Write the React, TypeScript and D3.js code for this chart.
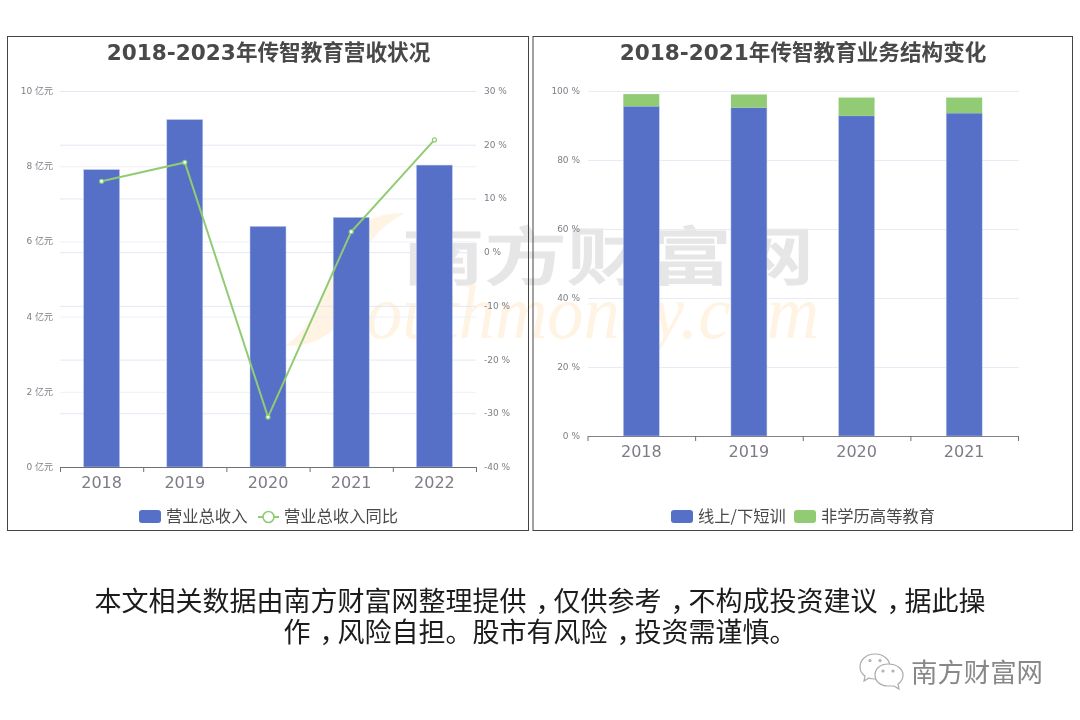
import React from "react";
import * as d3 from "d3";

const leftYears = ["2018", "2019", "2020", "2021", "2022"];
const revenue = [7.91, 9.24, 6.4, 6.64, 8.03];
const revenueYoY = [13.2, 16.7, -30.7, 3.8, 20.9];
const leftTicks = [0, 2, 4, 6, 8, 10];
const rightTicks = [-40, -30, -20, -10, 0, 10, 20, 30];

const shareYears = ["2018", "2019", "2020", "2021"];
const shortTraining = [95.6, 95.2, 92.8, 93.6];
const nonDegree = [3.5, 3.8, 5.3, 4.5];
const shareTicks = [0, 20, 40, 60, 80, 100];

const footerLines = [
  "本文相关数据由南方财富网整理提供，仅供参考，不构成投资建议，据此操",
  "作，风险自担。股市有风险，投资需谨慎。",
];

const BLUE = "#5470c6";
const GREEN = "#91cc75";
const LATIN = "'DejaVu Sans','Noto Sans CJK SC',sans-serif";
const CJK = "'Noto Sans CJK SC',sans-serif";

const Watermark = () => (
  <g>
    <path d="M405 213 C365 212 345 235 335 262 C322 300 310 330 285 346 C315 346 335 335 345 310 C355 270 362 235 405 213 Z" fill="#fff3e3" />
    <g transform="translate(402 279) scale(1 0.76)">
      <text x={0} y={0} fontFamily={CJK} fontSize={83} fontWeight={500} fill="#e6e6e6" stroke="#e6e6e6" strokeWidth={1.5} textLength={412} lengthAdjust="spacingAndGlyphs">南方财富网</text>
    </g>
    <text x={366} y={338} fontFamily="'Liberation Serif',serif" fontStyle="italic" fontSize={76} fill="#fff3e3" textLength={453} lengthAdjust="spacingAndGlyphs">outhmoney.com</text>
  </g>
);

const Left = () => {
  const x = d3.scaleBand().domain(leftYears).range([60, 476]);
  const yL = d3.scaleLinear().domain([0, 10]).range([467, 91]);
  const yR = d3.scaleLinear().domain([-40, 30]).range([467, 91]);
  const line = d3.line<number>().x((_, i) => x(leftYears[i])! + x.bandwidth() / 2).y((d) => yR(d));
  const bw = 36;
  return (
    <g>
      <rect x={7.5} y={36.5} width={521} height={494} fill="none" stroke="#444" strokeWidth={1} />
      <text x={268.5} y={60} textAnchor="middle" fontFamily={LATIN} fontWeight={700} fontSize={21.6} fill="#484848">2018-2023年传智教育营收状况</text>
      {leftTicks.map((t) => (
        <g key={t}>
          <line x1={60} x2={476} y1={yL(t) + 0.5} y2={yL(t) + 0.5} stroke={t === 0 ? "none" : "#eef0f7"} />
          <text x={53} y={yL(t) + 3} textAnchor="end" fontFamily={LATIN} fontSize={9} fill="#7d7f87">{t} 亿元</text>
        </g>
      ))}
      {rightTicks.map((t) => (
        <g key={t}>
          <line x1={60} x2={476} y1={yR(t) + 0.5} y2={yR(t) + 0.5} stroke={t === -40 ? "none" : "#e3e8f4"} />
          <text x={484} y={yR(t) + 3} fontFamily={LATIN} fontSize={9} fill="#7d7f87">{t} %</text>
        </g>
      ))}
      {revenue.map((v, i) => (
        <rect key={i} x={x(leftYears[i])! + (x.bandwidth() - bw) / 2} y={yL(v)} width={bw} height={yL(0) - yL(v)} fill={BLUE} stroke="#c3cff0" strokeWidth={0.5} />
      ))}
      <line x1={60} x2={476} y1={467.5} y2={467.5} stroke="#6e7079" />
      {[...x.domain().map((d) => x(d)!), 476].map((p, i) => (
        <line key={i} x1={p + 0.5} x2={p + 0.5} y1={467} y2={472} stroke="#6e7079" />
      ))}
      {leftYears.map((d) => (
        <text key={d} x={x(d)! + x.bandwidth() / 2} y={488} textAnchor="middle" fontFamily={LATIN} fontSize={16} fill="#7b7c85">{d}</text>
      ))}
      <path d={line(revenueYoY)!} fill="none" stroke={GREEN} strokeWidth={2} />
      {revenueYoY.map((v, i) => (
        <circle key={i} cx={x(leftYears[i])! + x.bandwidth() / 2} cy={yR(v)} r={2} fill="#fff" stroke={GREEN} strokeWidth={1.2} />
      ))}
      <rect x={139} y={510} width={22} height={13} rx={3} fill={BLUE} />
      <text x={166} y={522} fontFamily={CJK} fontSize={16.3} fill="#4a4a4a">营业总收入</text>
      <line x1={258} x2={279} y1={517} y2={517} stroke={GREEN} strokeWidth={2} />
      <circle cx={268.5} cy={517} r={5.5} fill="#fff" stroke={GREEN} strokeWidth={1.6} />
      <text x={284} y={522} fontFamily={CJK} fontSize={16.3} fill="#4a4a4a">营业总收入同比</text>
    </g>
  );
};

const Right = () => {
  const x = d3.scaleBand().domain(shareYears).range([588, 1018.5]);
  const y = d3.scaleLinear().domain([0, 100]).range([436, 91]);
  const stack = d3.stack<number>().keys(["a", "b"]).value((i, k) => (k === "a" ? shortTraining[i] : nonDegree[i]));
  const layers = stack(shareYears.map((_, i) => i));
  const bw = 36;
  return (
    <g>
      <rect x={533} y={36.5} width={539.5} height={494} fill="none" stroke="#444" strokeWidth={1} />
      <text x={803} y={60} textAnchor="middle" fontFamily={LATIN} fontWeight={700} fontSize={21.6} fill="#484848">2018-2021年传智教育业务结构变化</text>
      {shareTicks.map((t) => (
        <g key={t}>
          <line x1={588} x2={1019} y1={y(t) + 0.5} y2={y(t) + 0.5} stroke={t === 0 ? "none" : "#e8ebf5"} />
          <text x={580} y={y(t) + 3} textAnchor="end" fontFamily={LATIN} fontSize={9} fill="#7d7f87">{t} %</text>
        </g>
      ))}
      {layers.map((l, li) =>
        l.map((seg, i) => (
          <rect key={li + "-" + i} x={x(shareYears[i])! + (x.bandwidth() - bw) / 2 - 0.5} y={y(seg[1])} width={bw} height={y(seg[0]) - y(seg[1])} fill={li === 0 ? BLUE : GREEN} stroke={li === 0 ? "#c3cff0" : "none"} strokeWidth={0.5} />
        ))
      )}
      <line x1={588} x2={1019} y1={436.5} y2={436.5} stroke="#80828a" strokeWidth={1.2} />
      {[...x.domain().map((d) => x(d)!), 1018.5].map((p, i) => (
        <line key={i} x1={p} x2={p} y1={436} y2={441} stroke="#6e7079" />
      ))}
      {shareYears.map((d) => (
        <text key={d} x={x(d)! + x.bandwidth() / 2 - 0.5} y={457} textAnchor="middle" fontFamily={LATIN} fontSize={16} fill="#7b7c85">{d}</text>
      ))}
      <rect x={671} y={510} width={22} height={13} rx={3} fill={BLUE} />
      <text x={698} y={522} fontFamily={CJK} fontSize={16.3} fill="#4a4a4a">线上/下短训</text>
      <rect x={794} y={510} width={22} height={13} rx={3} fill={GREEN} />
      <text x={821} y={522} fontFamily={CJK} fontSize={16.3} fill="#4a4a4a">非学历高等教育</text>
    </g>
  );
};

// The reference centres its full-width commas in their cell, so each comma is nudged right and the next run nudged back.
const COMMA_SHIFT = 9;
const FooterLine = ({ text, y }: { text: string; y: number }) => {
  const parts = text.split("，");
  return (
    <text x={540} y={y} textAnchor="middle" fontSize={27}>
      {parts.map((p, i) => (
        <React.Fragment key={i}>
          <tspan dx={i > 0 ? -COMMA_SHIFT : 0}>{p}</tspan>
          {i < parts.length - 1 && <tspan dx={COMMA_SHIFT}>，</tspan>}
        </React.Fragment>
      ))}
    </text>
  );
};

const Footer = () => (
  <g fontFamily={CJK} fill="#1a1a1a">
    <FooterLine text={footerLines[0]} y={611} />
    <FooterLine text={footerLines[1]} y={642} />
    <g fill="#fff" stroke="#aaa" strokeWidth={1.2}>
      <path d="M875 654 C865 654 860 661 860 667 C860 671 862 674 865 676 L864 681 L869 678 C871 679 873 679 875 679 C885 679 890 673 890 667 C890 661 885 654 875 654 Z" />
      <path d="M888 664 C880 664 875 669 875 675 C875 681 880 686 888 686 L894 686 L899 689 L898 684 C901 682 903 679 903 675 C903 669 897 664 888 664 Z" />
      <circle cx={870} cy={660.5} r={1} />
      <circle cx={880} cy={660.5} r={1} />
      <circle cx={883} cy={671} r={1} />
      <circle cx={893} cy={671} r={1} />
    </g>
    <text x={911} y={682} fontFamily={CJK} fontSize={26.4} fill="#888">南方财富网</text>
  </g>
);

export default function App() {
  return (
    <svg width={1080} height={720} viewBox="0 0 1080 720" style={{ position: "absolute", left: 0, top: 0, background: "#fff" }}>
      <defs>
        <filter id="soft" x="0" y="0" width="100%" height="100%">
          <feGaussianBlur stdDeviation={0.35} />
        </filter>
      </defs>
      <g filter="url(#soft)">
        <rect width={1080} height={720} fill="#fff" />
        <Watermark />
        <Left />
        <Right />
        <Footer />
      </g>
    </svg>
  );
}
